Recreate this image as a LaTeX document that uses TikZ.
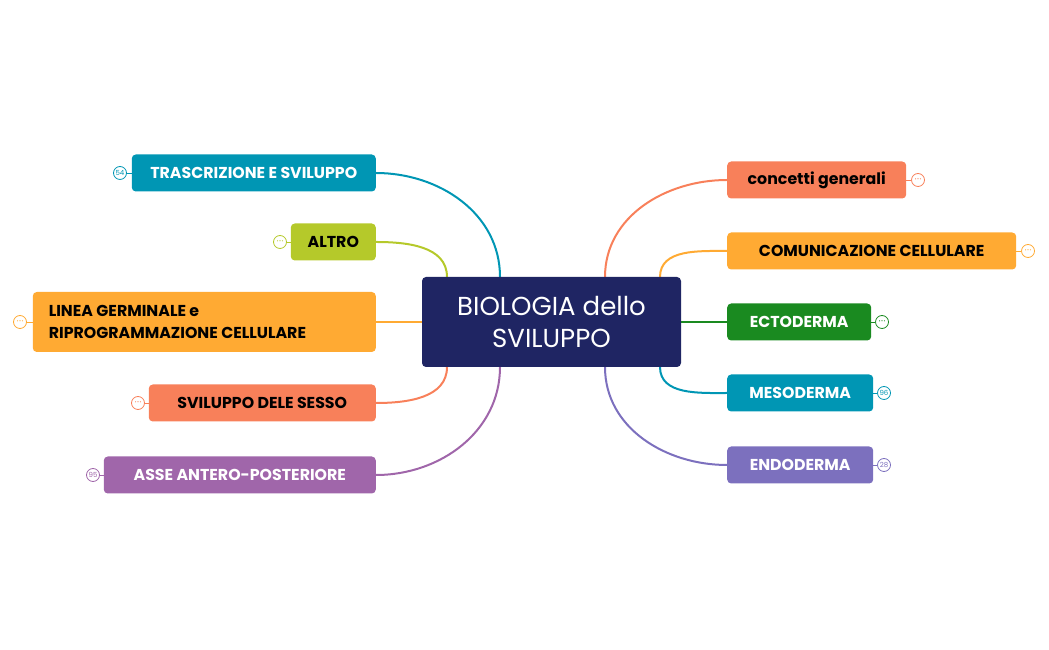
\documentclass[tikz,border=0pt]{standalone}
\usepackage{fontspec}
\setmainfont{Poppins}
\definecolor{cteal}{HTML}{0096B4}
\definecolor{clime}{HTML}{B5C92A}
\definecolor{corange}{HTML}{FFAA33}
\definecolor{csalmon}{HTML}{F8805A}
\definecolor{cpurple}{HTML}{A066AA}
\definecolor{cnavy}{HTML}{1F2563}
\definecolor{cgreen}{HTML}{1A8A20}
\definecolor{cviolet}{HTML}{7C70BE}
\newcommand{\mydots}{\tikz[baseline=-2pt]{\foreach \i in {-2.4,0,2.4} \fill (\i pt,1pt) circle (0.6pt);}}
\begin{document}
\begin{tikzpicture}[x=1pt,y=1pt,
  topic/.style={rounded corners=4pt,minimum height=37pt,inner xsep=16pt,font=\fontsize{15.8}{22}\selectfont\bfseries,align=flush left},
  lt/.style={topic,anchor=east},
  rt/.style={topic,anchor=west},
  conn/.style={line width=2pt},
  badge/.style={circle,draw,fill=white,line width=0.8pt,minimum size=13pt,inner sep=0pt,font=\fontsize{7}{8}\selectfont}]
\useasboundingbox (0,0) rectangle (1049,650);
\coordinate (t1) at (500,373); \coordinate (t2) at (447,373);
\coordinate (t3) at (605,373); \coordinate (t4) at (660,373);
\coordinate (b1) at (500,283); \coordinate (b2) at (447,283);
\coordinate (b3) at (605,283); \coordinate (b4) at (660,283);
\coordinate (cw) at (422,328); \coordinate (ce) at (681,328);
% left
\node[lt,fill=cteal,text=white,minimum width=244pt] (tr) at (376,477) {TRASCRIZIONE E SVILUPPO};
\node[lt,fill=clime,minimum width=85pt] (al) at (376,408) {ALTRO};
\node[lt,fill=corange,minimum height=60pt,text width=311pt] (li) at (376,328) {LINEA GERMINALE e\\RIPROGRAMMAZIONE CELLULARE};
\node[lt,fill=csalmon,minimum width=227pt] (se) at (376,247) {SVILUPPO DELE SESSO};
\node[lt,fill=cpurple,text=white,minimum width=272pt] (as) at (376,175) {ASSE ANTERO-POSTERIORE};
% right
\node[rt,fill=csalmon,minimum width=179pt] (co) at (727,470) {concetti generali};
\node[rt,fill=corange,minimum width=289pt] (cm) at (727,399) {COMUNICAZIONE CELLULARE};
\node[rt,fill=cgreen,text=white,minimum width=144pt] (ec) at (727,328) {ECTODERMA};
\node[rt,fill=cteal,text=white,minimum width=146pt] (me) at (727,257) {MESODERMA};
\node[rt,fill=cviolet,text=white,minimum width=146pt] (en) at (727,185) {ENDODERMA};
% connectors
\draw[conn,cteal] (t1) to[out=90,in=0] (tr.east);
\draw[conn,clime] (t2) to[out=90,in=0] (al.east);
\draw[conn,corange] (cw) -- (li.east);
\draw[conn,csalmon] (b2) to[out=-90,in=0] (se.east);
\draw[conn,cpurple] (b1) to[out=-90,in=0] (as.east);
\draw[conn,csalmon] (t3) to[out=90,in=180] (co.west);
\draw[conn,corange] (t4) to[out=90,in=180] (cm.west);
\draw[conn,cgreen] (ce) -- (ec.west);
\draw[conn,cteal] (b4) to[out=-90,in=180] (me.west);
\draw[conn,cviolet] (b3) to[out=-90,in=180] (en.west);
\node[fill=cnavy,text=white,rounded corners=4pt,minimum width=259pt,minimum height=90pt,align=center,font=\fontsize{26}{32}\selectfont] (c) at (551.5,328) {BIOLOGIA dello\\SVILUPPO};
% badges
\node[badge,draw=cteal,text=cteal] (k1) at (120,477) {54}; \draw[cteal,line width=0.8pt] (k1) -- (tr.west);
\node[badge,draw=clime,text=clime] (k2) at (280,408) {\mydots}; \draw[clime,line width=0.8pt] (k2) -- (al.west);
\node[badge,draw=corange,text=corange] (k3) at (20,328) {\mydots}; \draw[corange,line width=0.8pt] (k3) -- (li.west);
\node[badge,draw=csalmon,text=csalmon] (k4) at (138,247) {\mydots}; \draw[csalmon,line width=0.8pt] (k4) -- (se.west);
\node[badge,draw=cpurple,text=cpurple] (k5) at (93,175) {95}; \draw[cpurple,line width=0.8pt] (k5) -- (as.west);
\node[badge,draw=csalmon,text=csalmon] (k6) at (918,470) {\mydots}; \draw[csalmon,line width=0.8pt] (k6) -- (co.east);
\node[badge,draw=corange,text=corange] (k7) at (1028,399) {\mydots}; \draw[corange,line width=0.8pt] (k7) -- (cm.east);
\node[badge,draw=cgreen,text=cgreen] (k8) at (882,328) {\mydots}; \draw[cgreen,line width=0.8pt] (k8) -- (ec.east);
\node[badge,draw=cteal,text=cteal] (k9) at (884,257) {96}; \draw[cteal,line width=0.8pt] (k9) -- (me.east);
\node[badge,draw=cviolet,text=cviolet] (k10) at (884,185) {28}; \draw[cviolet,line width=0.8pt] (k10) -- (en.east);
\end{tikzpicture}
\end{document}
